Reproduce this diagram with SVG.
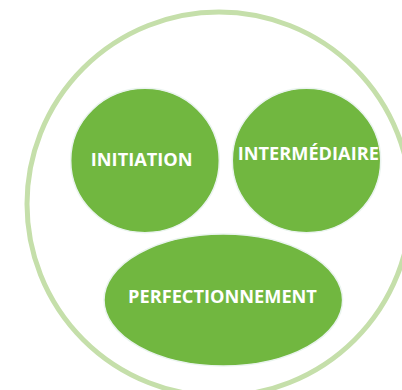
<svg xmlns="http://www.w3.org/2000/svg" width="402" height="390" viewBox="0 0 402 390">
<style>
.node{fill:#71b740;stroke:#eaf4ef;stroke-width:1.5}
.lbl{font-family:"Open Sans","Liberation Sans",sans-serif;font-weight:bold;font-size:18.2px;fill:#ffffff;text-anchor:middle}
</style>
<rect width="402" height="390" fill="#ffffff"/>
<g id="outer"><circle cx="219" cy="204" r="192" fill="none" stroke="#c5dfaa" stroke-width="5"/></g>
<g id="connectors"></g>
<g id="initiation"><ellipse class="node" cx="145" cy="160.5" rx="74.3" ry="72.2"/><text class="lbl" x="141.7" y="165.7">INITIATION</text></g>
<g id="intermediaire"><ellipse class="node" cx="306.5" cy="160.5" rx="74.2" ry="72.2"/><text class="lbl" x="308.3" y="160">INTERMÉDIAIRE</text></g>
<g id="perfectionnement"><ellipse class="node" cx="223.3" cy="300" rx="119.3" ry="66"/><text class="lbl" x="222.5" y="302.7">PERFECTIONNEMENT</text></g>
</svg>
